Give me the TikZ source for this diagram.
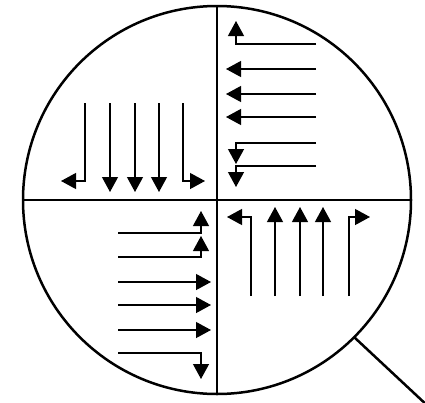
\documentclass[tikz,border=0pt]{standalone}
\usetikzlibrary{arrows.meta}
\begin{document}
\begin{tikzpicture}[
      x=1pt, y=-1pt,
      declare function={
          r = 194;
        },
      flow/.style={line width=1.2pt, -{Triangle[length=15pt,width=16pt]}},
      rim/.style={line width=2.5pt}
    ]
    \useasboundingbox (0,0) rectangle (425,402);
    \coordinate (c) at (217,200);
    \draw[rim] (c) circle [radius=r];
    \draw[rim] (c) ++(180:r) -- ++(2*r,0);
    \draw[rim] (c) ++(0,-r) -- ++(0,2*r);
    \draw[rim] (c) ++(45:r) coordinate (h) -- (430,408);
    % top left
    \foreach \x in {110,135,159}
      \draw[flow] (\x,103) -- (\x,192);
    \draw[flow] (85,103) |- (61,181);
    \draw[flow] (183,103) |- (205,181);
    % top right
    \foreach \y in {69,94,117}
      \draw[flow] (316,\y) -- (226,\y);
    \draw[flow] (316,44) -| (236,21);
    \draw[flow] (316,143) -| (236,164);
    \draw[flow] (316,166) -| (236,187);
    % bottom left
    \foreach \y in {282,305,330}
      \draw[flow] (118,\y) -- (211,\y);
    \draw[flow] (118,233) -| (201,211);
    \draw[flow] (118,257) -| (201,236);
    \draw[flow] (118,353) -| (201,379);
    % bottom right
    \foreach \x in {275,300,323}
      \draw[flow] (\x,296) -- (\x,207);
    \draw[flow] (251,296) |- (227,217);
    \draw[flow] (349,296) |- (370,217);
  \end{tikzpicture}
\end{document}
